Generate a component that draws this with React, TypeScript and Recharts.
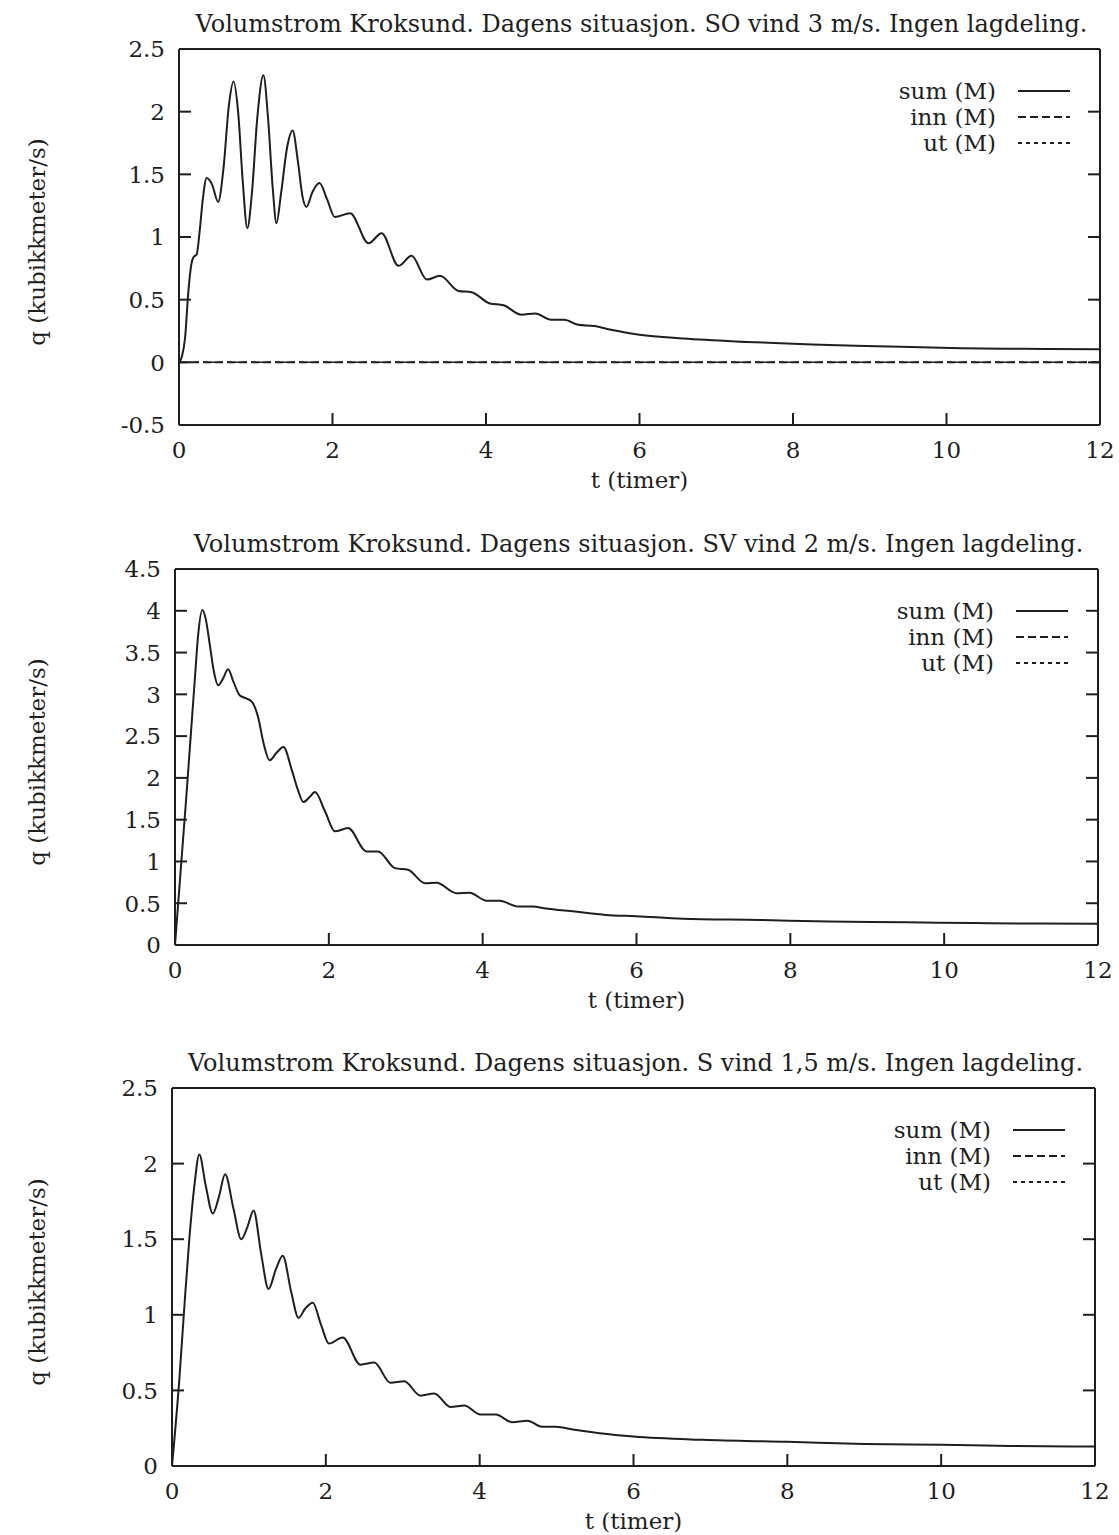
import { LineChart, Line, XAxis, YAxis, Legend } from 'recharts'

const W = 1119
const FONT = '"DejaVu Serif", serif'
const INK = '#1e1e1e'
const TICK = 12

const tTicks = [0, 2, 4, 6, 8, 10, 12]
const seriesNames = ['sum (M)', 'inn (M)', 'ut (M)']
const seriesDash = ['', '8 4', '4 4']

// inn / ut stay on zero the whole run
const zeroT = [0, 12]
const zeroQ = [0, 0]

// SO vind 3 m/s
const yTicks1 = [-0.5, 0, 0.5, 1, 1.5, 2, 2.5]
const t1 = [0, 0.04, 0.08, 0.12, 0.16, 0.19, 0.23, 0.27, 0.31, 0.36, 0.43, 0.51, 0.58, 0.65, 0.71, 0.77, 0.83, 0.89, 0.95, 1.02, 1.1, 1.16, 1.22, 1.27, 1.33, 1.41, 1.48, 1.55, 1.61, 1.66, 1.74, 1.83, 1.93, 2.03, 2.23, 2.47, 2.64, 2.86, 3.03, 3.23, 3.4, 3.64, 3.81, 4.05, 4.23, 4.46, 4.64, 4.85, 5.02, 5.2, 5.41, 5.63, 6, 6.57, 7.4, 8.25, 9.1, 10.2, 11, 12]
const q1 = [0, 0.05, 0.2, 0.55, 0.78, 0.84, 0.86, 1.05, 1.3, 1.47, 1.42, 1.28, 1.55, 2.05, 2.24, 2.0, 1.45, 1.07, 1.35, 1.95, 2.29, 1.95, 1.4, 1.11, 1.35, 1.72, 1.85, 1.6, 1.32, 1.24, 1.36, 1.43, 1.3, 1.16, 1.19, 0.95, 1.03, 0.77, 0.85, 0.66, 0.69, 0.57, 0.56, 0.47, 0.455, 0.38, 0.39, 0.34, 0.34, 0.3, 0.29, 0.26, 0.22, 0.19, 0.163, 0.142, 0.129, 0.113, 0.108, 0.104]

// SV vind 2 m/s
const yTicks2 = [0, 0.5, 1, 1.5, 2, 2.5, 3, 3.5, 4, 4.5]
const t2 = [0, 0.15, 0.26, 0.3, 0.355, 0.4, 0.45, 0.5, 0.56, 0.62, 0.69, 0.76, 0.84, 0.93, 1.0, 1.08, 1.15, 1.23, 1.32, 1.41, 1.52, 1.6, 1.67, 1.75, 1.82, 1.95, 2.08, 2.25, 2.49, 2.64, 2.86, 3.03, 3.25, 3.4, 3.66, 3.83, 4.05, 4.22, 4.46, 4.65, 4.8, 5.2, 5.6, 6, 6.6, 7.6, 8.5, 9.5, 10.4, 11.2, 12]
const q2 = [0, 1.81, 3.21, 3.7, 4.01, 3.9, 3.61, 3.3, 3.11, 3.18, 3.3, 3.15, 2.99, 2.95, 2.91, 2.73, 2.42, 2.21, 2.3, 2.37, 2.09, 1.85, 1.71, 1.77, 1.83, 1.6, 1.36, 1.4, 1.12, 1.12, 0.92, 0.9, 0.74, 0.745, 0.62, 0.625, 0.53, 0.53, 0.46, 0.46, 0.44, 0.4, 0.36, 0.345, 0.315, 0.3, 0.28, 0.273, 0.262, 0.257, 0.254]

// S vind 1,5 m/s
const yTicks3 = [0, 0.5, 1, 1.5, 2, 2.5]
const t3 = [0, 0.095, 0.16, 0.225, 0.29, 0.355, 0.44, 0.53, 0.61, 0.69, 0.8, 0.9, 0.98, 1.06, 1.16, 1.255, 1.35, 1.44, 1.55, 1.645, 1.73, 1.83, 1.94, 2.04, 2.22, 2.45, 2.63, 2.84, 3.02, 3.23, 3.41, 3.62, 3.8, 4.01, 4.21, 4.42, 4.62, 4.81, 4.99, 5.23, 5.56, 6, 6.9, 8, 9, 10, 10.9, 12]
const q3 = [0, 0.57, 1.05, 1.5, 1.85, 2.06, 1.85, 1.67, 1.78, 1.93, 1.7, 1.5, 1.58, 1.69, 1.4, 1.17, 1.3, 1.39, 1.15, 0.98, 1.04, 1.08, 0.93, 0.81, 0.85, 0.67, 0.685, 0.55, 0.56, 0.465, 0.48, 0.39, 0.4, 0.34, 0.34, 0.29, 0.3, 0.26, 0.26, 0.24, 0.217, 0.195, 0.173, 0.16, 0.146, 0.14, 0.133, 0.129]

const textStyle = { fontFamily: FONT, fontSize: 23, fill: INK }
const titleStyle = { ...textStyle, fontSize: 24 }

// gnuplot style: ticks point into the box, on all four sides
const BottomTick = (p: any) => (
  <g>
    <line x1={p.x} y1={p.y} x2={p.x} y2={p.y - TICK} stroke={INK} strokeWidth={2} />
    <text x={p.x} y={p.y + 33} textAnchor="middle" style={textStyle}>{p.payload.value}</text>
  </g>
)
const LeftTick = (p: any) => (
  <g>
    <line x1={p.x} y1={p.y} x2={p.x + TICK} y2={p.y} stroke={INK} strokeWidth={2} />
    <text x={p.x - 14} y={p.y} dy="0.36em" textAnchor="end" style={textStyle}>{p.payload.value}</text>
  </g>
)
const TopTick = (p: any) => <line x1={p.x} y1={p.y} x2={p.x} y2={p.y + TICK} stroke={INK} strokeWidth={2} />
const RightTick = (p: any) => <line x1={p.x} y1={p.y} x2={p.x - TICK} y2={p.y} stroke={INK} strokeWidth={2} />

// keep the key in plotting order (sum, inn, ut)
const KeyBox = ({ payload }: any) => {
  const items = [...(payload || [])].sort(
    (a: any, b: any) => seriesNames.indexOf(a.value) - seriesNames.indexOf(b.value)
  )
  return (
    <div style={{ fontFamily: FONT, fontSize: 23, color: INK, lineHeight: '26px' }}>
      {items.map((entry: any) => (
        <div key={entry.value} style={{ display: 'flex', justifyContent: 'flex-end', alignItems: 'center', height: 26 }}>
          <span>{entry.value}</span>
          <svg width={52} height={10} style={{ marginLeft: 22 }}>
            <line x1={0} y1={5} x2={52} y2={5} stroke={INK} strokeWidth={2} strokeDasharray={seriesDash[seriesNames.indexOf(entry.value)]} />
          </svg>
        </div>
      ))}
    </div>
  )
}

interface Box { l: number; r: number; t: number; b: number }

function Panel({ top, box, title, t, q, yTicks }: { top: number; box: Box; title: string; t: number[]; q: number[]; yTicks: number[] }) {
  const height = box.b - top + 80
  const sum = t.map((v, i) => ({ t: v, q: q[i] }))
  const zero = zeroT.map((v, i) => ({ t: v, q: zeroQ[i] }))
  const yDomain = [yTicks[0], yTicks[yTicks.length - 1]]
  const cx = (box.l + box.r) / 2
  const cy = (box.t + box.b) / 2 - top + 5
  const plotTop = box.t - top
  const plotBottom = box.b - top
  const axisLine = { stroke: INK, strokeWidth: 2 }

  return (
    <div style={{ position: 'absolute', left: 0, top }}>
      <LineChart
        width={W}
        height={height}
        margin={{ top: plotTop - 1, right: W - box.r - 1, left: 0, bottom: height - plotBottom - 70 }}
      >
        <XAxis
          xAxisId="bottom"
          type="number"
          dataKey="t"
          domain={[0, 12]}
          ticks={tTicks}
          interval={0}
          height={70}
          tickSize={0}
          tickMargin={0}
          tickLine={false}
          axisLine={axisLine}
          tick={BottomTick}
          label={() => (
            <text x={cx} y={plotBottom + 63} textAnchor="middle" style={textStyle}>t (timer)</text>
          )}
        />
        <XAxis
          xAxisId="top"
          orientation="top"
          type="number"
          dataKey="t"
          domain={[0, 12]}
          ticks={tTicks}
          interval={0}
          height={1}
          tickSize={0}
          tickMargin={0}
          tickLine={false}
          axisLine={axisLine}
          tick={TopTick}
          label={() => (
            <text x={cx + 2} y={plotTop - 17} textAnchor="middle" style={titleStyle}>{title}</text>
          )}
        />
        <YAxis
          yAxisId="left"
          type="number"
          domain={yDomain}
          ticks={yTicks}
          interval={0}
          width={box.l}
          tickSize={0}
          tickMargin={0}
          tickLine={false}
          axisLine={axisLine}
          tick={LeftTick}
          allowDataOverflow
          label={() => (
            <text x={37} y={cy} transform={`rotate(-90 37 ${cy})`} textAnchor="middle" dominantBaseline="central" style={textStyle}>
              q (kubikkmeter/s)
            </text>
          )}
        />
        <YAxis
          yAxisId="right"
          orientation="right"
          type="number"
          domain={yDomain}
          ticks={yTicks}
          interval={0}
          width={1}
          tickSize={0}
          tickMargin={0}
          tickLine={false}
          axisLine={axisLine}
          tick={RightTick}
          allowDataOverflow
        />
        <Legend
          layout="vertical"
          align="center"
          verticalAlign="middle"
          content={KeyBox}
          wrapperStyle={{ position: 'absolute', left: box.r - 260, top: plotTop + 29, width: 230, margin: 0 }}
        />
        <Line xAxisId="bottom" yAxisId="left" data={sum} dataKey="q" name={seriesNames[0]} type="monotone" stroke={INK} strokeWidth={2} dot={false} isAnimationActive={false} />
        <Line xAxisId="bottom" yAxisId="left" data={zero} dataKey="q" name={seriesNames[1]} type="linear" stroke={INK} strokeWidth={2} strokeDasharray={seriesDash[1]} dot={false} isAnimationActive={false} />
        <Line xAxisId="bottom" yAxisId="left" data={zero} dataKey="q" name={seriesNames[2]} type="linear" stroke={INK} strokeWidth={1.5} strokeDasharray={seriesDash[2]} dot={false} isAnimationActive={false} />
      </LineChart>
    </div>
  )
}

export default function App() {
  return (
    <div style={{ position: 'absolute', left: 0, top: 0, width: W, height: 1535, background: '#fff' }}>
      <Panel
        top={0}
        box={{ l: 179, r: 1100, t: 49, b: 425 }}
        title="Volumstrom Kroksund. Dagens situasjon. SO vind 3 m/s. Ingen lagdeling."
        t={t1}
        q={q1}
        yTicks={yTicks1}
      />
      <Panel
        top={520}
        box={{ l: 175, r: 1098, t: 569, b: 945 }}
        title="Volumstrom Kroksund. Dagens situasjon. SV vind 2 m/s. Ingen lagdeling."
        t={t2}
        q={q2}
        yTicks={yTicks2}
      />
      <Panel
        top={1040}
        box={{ l: 172, r: 1095, t: 1088, b: 1466 }}
        title="Volumstrom Kroksund. Dagens situasjon. S vind 1,5 m/s. Ingen lagdeling."
        t={t3}
        q={q3}
        yTicks={yTicks3}
      />
    </div>
  )
}
